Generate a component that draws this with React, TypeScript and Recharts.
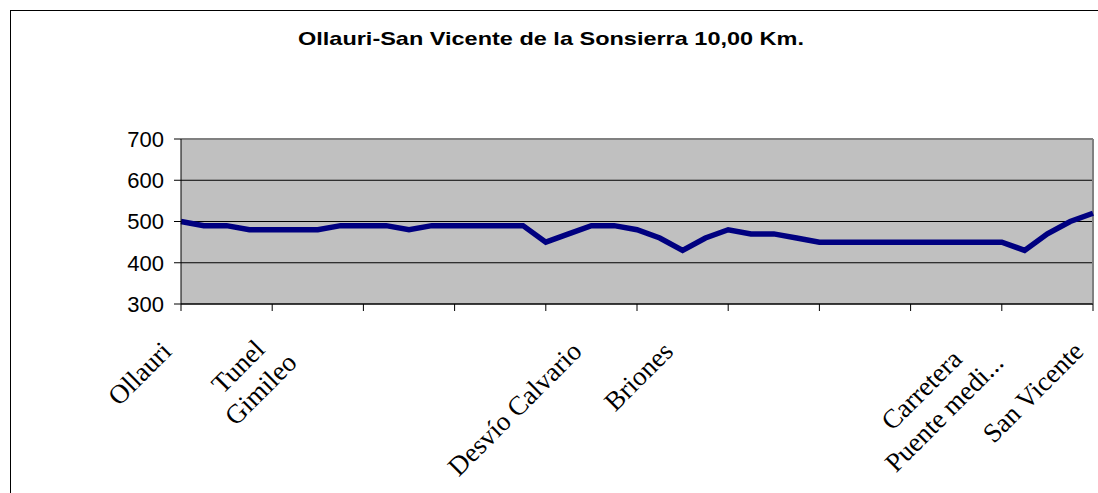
import React from "react";
import {
  LineChart,
  Line,
  XAxis,
  YAxis,
  CartesianGrid,
  ReferenceLine,
} from "recharts";

// station names along the route ("" = no label), "\n" splits a label in two lines
const stations = [
  "Ollauri", "", "", "", "", "Tunel\nGimileo", "", "", "", "",
  "", "", "", "", "", "", "", "", "Desvío Calvario", "",
  "", "", "Briones", "", "", "", "", "", "", "",
  "", "", "", "", "", "", "Carretera\nPuente medi...", "", "", "",
  "San Vicente",
];

// elevation (m) at each point
const elevation = [
  500, 490, 490, 480, 480, 480, 480, 490, 490, 490,
  480, 490, 490, 490, 490, 490, 450, 470, 490, 490,
  480, 460, 430, 460, 480, 470, 470, 460, 450, 450,
  450, 450, 450, 450, 450, 450, 450, 430, 470, 500,
  520,
];

const yTicks = [300, 400, 500, 600, 700];

const rows = elevation.map((alt, i) => ({ i, alt }));
const xTicks = rows.map((r) => r.i);

const LABEL_SIZE = 27;
const LABEL_FONT = `${LABEL_SIZE}px 'Liberation Serif'`;
let ctx: CanvasRenderingContext2D | null = null;
function textWidth(s: string) {
  if (!ctx) ctx = document.createElement("canvas").getContext("2d");
  if (!ctx) return s.length * 12;
  ctx.font = LABEL_FONT;
  return ctx.measureText(s).width;
}

function StationTick(props: any) {
  const { x, y, payload } = props;
  const i = payload.value as number;
  const label = stations[i] || "";
  const lines = label ? label.split("\n") : [];
  const lineGap = 32;
  const widest = Math.max(0, ...lines.map(textWidth));
  return (
    <g>
      {i % 4 === 0 && (
        <line x1={x} x2={x} y1={y} y2={y + 7} stroke="#000" strokeWidth={1} />
      )}
      {lines.length > 0 && (
        <g transform={`translate(${x - 8},${y + 49}) rotate(-45)`}>
          {lines.map((ln, k) => (
            <text
              key={k}
              x={lines.length > 1 ? -widest / 2 : 0}
              y={(k - (lines.length - 1) / 2) * lineGap}
              textAnchor={lines.length > 1 ? "middle" : "end"}
              fontFamily="'Liberation Serif', 'Times New Roman', serif"
              fontSize={LABEL_SIZE}
              fill="#000"
            >
              {ln}
            </text>
          ))}
        </g>
      )}
    </g>
  );
}

export default function App() {
  return (
    <div>
      <style>{`body{margin:0;overflow:hidden;background:#fff}`}</style>
      <div
        style={{
          position: "absolute",
          left: 10,
          top: 10,
          width: 1100,
          height: 500,
          border: "1px solid #000",
          boxSizing: "border-box",
          background: "#fff",
        }}
      >
        <svg
          width={1098}
          height={60}
          style={{ position: "absolute", left: 0, top: 0 }}
        >
          <text
            x={540}
            y={34}
            textAnchor="middle"
            fontFamily="'Liberation Sans', Arial, sans-serif"
            fontWeight={700}
            fontSize={19}
            textLength={506}
            lengthAdjust="spacingAndGlyphs"
            fill="#000"
          >
            Ollauri-San Vicente de la Sonsierra 10,00 Km.
          </text>
        </svg>
        <LineChart
          width={1098}
          height={480}
          data={rows}
          margin={{ top: 128, right: 16, bottom: 37, left: 110 }}
          style={{ position: "absolute", left: 0, top: 0 }}
        >
          <CartesianGrid
            vertical={false}
            stroke="#000"
            strokeOpacity={1}
            fill="#C0C0C0"
            fillOpacity={1}
          />
          <ReferenceLine y={700} stroke="#808080" strokeWidth={2} />
          <ReferenceLine x={40} stroke="#808080" strokeWidth={2} />
          <XAxis
            dataKey="i"
            type="number"
            domain={[0, 40]}
            ticks={xTicks}
            interval={0}
            tickLine={false}
            tickSize={0}
            tickMargin={0}
            height={150}
            axisLine={{ stroke: "#000", strokeWidth: 1 }}
            tick={<StationTick />}
          />
          <YAxis
            domain={[300, 700]}
            ticks={yTicks}
            interval={0}
            width={60}
            tickSize={7}
            tickMargin={10}
            tickLine={{ stroke: "#000" }}
            axisLine={{ stroke: "#000", strokeWidth: 1 }}
            tick={{
              fill: "#000",
              fontSize: 22,
              fontFamily: "'Liberation Sans', Arial, sans-serif",
            }}
          />
          <Line
            type="linear"
            dataKey="alt"
            stroke="#000080"
            strokeWidth={5.5}
            dot={false}
            activeDot={false}
            isAnimationActive={false}
          />
        </LineChart>
      </div>
    </div>
  );
}
